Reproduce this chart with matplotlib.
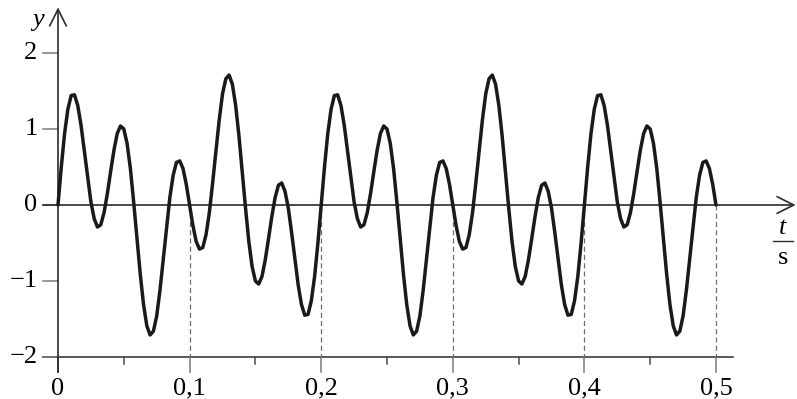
import numpy as np
import matplotlib
matplotlib.use("Agg")
import matplotlib.pyplot as plt

# signal, one sample every 2.5 ms from t = 0 to t = 0.5 s
t_start, t_end = 0.0, 0.5
y_values = [
    0.00, 0.50, 0.94, 1.26, 1.44, 1.45, 1.31, 1.05, 0.71, 0.36,
    0.04, -0.18, -0.29, -0.26, -0.10, 0.15, 0.44, 0.72, 0.94, 1.04,
    1.00, 0.81, 0.48, 0.04, -0.44, -0.91, -1.31, -1.59, -1.71, -1.66,
    -1.46, -1.12, -0.71, -0.29, 0.10, 0.39, 0.56, 0.58, 0.48, 0.27,
    0.00, -0.27, -0.48, -0.58, -0.56, -0.39, -0.10, 0.29, 0.71, 1.12,
    1.46, 1.66, 1.71, 1.59, 1.31, 0.91, 0.44, -0.04, -0.48, -0.81,
    -1.00, -1.04, -0.94, -0.72, -0.44, -0.15, 0.10, 0.26, 0.29, 0.18,
    -0.04, -0.36, -0.71, -1.05, -1.31, -1.45, -1.44, -1.26, -0.94, -0.50,
    0.00, 0.50, 0.94, 1.26, 1.44, 1.45, 1.31, 1.05, 0.71, 0.36,
    0.04, -0.18, -0.29, -0.26, -0.10, 0.15, 0.44, 0.72, 0.94, 1.04,
    1.00, 0.81, 0.48, 0.04, -0.44, -0.91, -1.31, -1.59, -1.71, -1.66,
    -1.46, -1.12, -0.71, -0.29, 0.10, 0.39, 0.56, 0.58, 0.48, 0.27,
    0.00, -0.27, -0.48, -0.58, -0.56, -0.39, -0.10, 0.29, 0.71, 1.12,
    1.46, 1.66, 1.71, 1.59, 1.31, 0.91, 0.44, -0.04, -0.48, -0.81,
    -1.00, -1.04, -0.94, -0.72, -0.44, -0.15, 0.10, 0.26, 0.29, 0.18,
    -0.04, -0.36, -0.71, -1.05, -1.31, -1.45, -1.44, -1.26, -0.94, -0.50,
    0.00, 0.50, 0.94, 1.26, 1.44, 1.45, 1.31, 1.05, 0.71, 0.36,
    0.04, -0.18, -0.29, -0.26, -0.10, 0.15, 0.44, 0.72, 0.94, 1.04,
    1.00, 0.81, 0.48, 0.04, -0.44, -0.91, -1.31, -1.59, -1.71, -1.66,
    -1.46, -1.12, -0.71, -0.29, 0.10, 0.39, 0.56, 0.58, 0.48, 0.27,
    0.00,
]

y_ticks = [-2, -1, 0, 1, 2]
y_tick_labels = ["\u22122", "\u22121", "0", "1", "2"]
x_ticks = [0.0, 0.1, 0.2, 0.3, 0.4, 0.5]
x_tick_labels = ["0", "0,1", "0,2", "0,3", "0,4", "0,5"]
x_minor_ticks = [0.05, 0.15, 0.25, 0.35, 0.45]
dashed_at = [0.1, 0.2, 0.3, 0.4, 0.5]

plt.rcParams['font.family'] = ['Liberation Serif', 'DejaVu Serif']

t = np.linspace(t_start, t_end, len(y_values))

fig = plt.figure(figsize=(7.97, 3.99), dpi=100)
ax = fig.add_axes([0, 0, 1, 1])
ax.axis('off')
# 1316 px per second, 76 px per unit, origin at pixel (58, 205)
ax.set_xlim(-58 / 1316, (797 - 58) / 1316)
ax.set_ylim((205 - 399) / 76, 205 / 76)

axis_col = "#2b2b2b"
tick_col = "#7a7a7a"
fs = 19

# dashed helper lines
for x in dashed_at:
    ax.plot([x, x], [0, -2], color="#6e6e6e", lw=0.9, ls=(0, (4, 2.6)), zorder=1)

# bottom scale
ax.plot([-0.0114, 0.513], [-2, -2], color=axis_col, lw=1.1, zorder=2)
for x in x_ticks:
    ax.plot([x, x], [-2, -2.2], color=axis_col if x == 0 else tick_col, lw=1.1, zorder=2)
for x in x_minor_ticks:
    ax.plot([x, x], [-2, -2.09], color="#4a4a4a", lw=1.1, zorder=2)
for x, lab in zip(x_ticks, x_tick_labels):
    ax.text(x, -2.42, lab, ha="center", va="center", fontsize=fs)

# left ticks
for yv, lab in zip(y_ticks, y_tick_labels):
    ax.plot([-0.0114, 0], [yv, yv], color=tick_col, lw=1.1, zorder=2)
    ax.text(-0.0155, yv, lab, ha="right", va="center", fontsize=fs)

# axes with arrows
arrow = dict(arrowstyle="->,head_length=0.6,head_width=0.3", lw=1.2,
             color=axis_col, mutation_scale=20, shrinkA=0, shrinkB=0)
ax.annotate("", xy=(0, 2.60), xytext=(0, -2.2), arrowprops=arrow, zorder=3)
ax.annotate("", xy=(0.5605, 0), xytext=(-0.0114, 0), arrowprops=arrow, zorder=3)

# signal
ax.plot(t, y_values, color="#1a1a1a", lw=2.5, solid_joinstyle="round",
        solid_capstyle="round", zorder=4)

# axis labels
ax.text(-0.0152, 2.43, "y", ha="center", va="center", fontsize=fs, style="italic")
ax.text(0.5509, -0.30, "t", ha="center", va="center", fontsize=fs, style="italic")
ax.plot([0.5433, 0.5585], [-0.474, -0.474], color=axis_col, lw=1.0)
ax.text(0.5509, -0.70, "s", ha="center", va="center", fontsize=fs)

fig.savefig("out.png", dpi=100)
